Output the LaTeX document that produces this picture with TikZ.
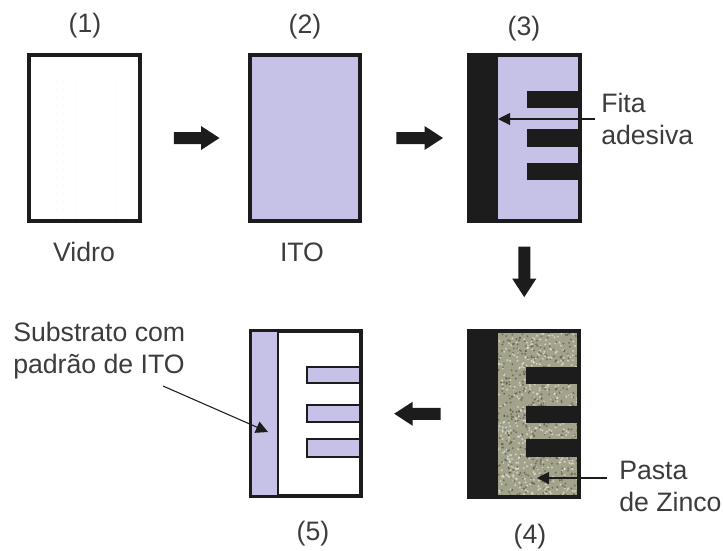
\documentclass[tikz,border=0pt]{standalone}
\usepackage{fontspec}
\setmainfont{Liberation Sans}
\usepackage{tikz}
\usetikzlibrary{arrows.meta,positioning}
\definecolor{ito}{HTML}{C6C1E6}
\definecolor{ink}{HTML}{1C1C1C}
\definecolor{tinta}{HTML}{3C3C3C}
\definecolor{pasta}{HTML}{A3A38B}
\tikzset{
  panel/.style={draw=ink,line width=3pt,minimum width=83pt,minimum height=124pt,inner sep=0pt},
  rotulo/.style={text=tinta,font=\fontsize{20}{24}\selectfont,inner sep=0pt},
  notas/.style={rotulo,align=left},
  seta/.style={draw=ink,line width=9pt,-{Triangle[length=14pt,width=17pt]}},
  guia/.style={draw=ink,line width=0.8pt,-{Triangle[length=9pt,width=9pt]}}
}
\begin{document}
\begin{tikzpicture}[scale=0.2636]
    \useasboundingbox (0,0) rectangle (72.3,-55.1);
    % paineis
    \node [panel,fill=white] (p1) at (8.45,-13.8) {};
    \node [panel,fill=ito] (p2) at (30.5,-13.8) {};
    \node [panel,fill=ito] (p3) at (52.45,-13.8) {};
    \node [panel,fill=white] (p5) at (30.6,-41.35) {};
    % pontos claros
    \foreach \i in {0,...,12} {
        \foreach \j in {0,...,17} {
            \fill [magenta!12] ({4.4+\i*0.65},{-8.2-\j*0.8}) circle (0.05);
        }
    }
    \foreach \i in {0,...,6} {
        \foreach \j in {0,...,17} {
            \fill [magenta!10] ({29+\i*0.8},{-35-\j*0.8}) circle (0.05);
        }
    }
    % painel 3
    \fill [ink] (46.7,-5.3) rectangle (49.8,-22.3);
    \fill [ink] (52.7,-9.1) rectangle (58.2,-10.8);
    \fill [ink] (52.7,-12.9) rectangle (58.2,-14.7);
    \fill [ink] (52.7,-16.3) rectangle (58.2,-18);
    % painel 4
    \fill [pasta] (49.8,-32.9) rectangle (58.1,-49.9);
    \pgfmathsetseed{7}
    \foreach \i in {1,...,900} {
        \pgfmathsetmacro{\px}{49.8+rnd*8}
        \pgfmathsetmacro{\py}{-33.3-rnd*16.2}
        \ifodd\i
            \fill [white,opacity=0.5] (\px,\py) circle (0.11);
        \else
            \fill [black!70!olive,opacity=0.5] (\px,\py) circle (0.11);
        \fi
    }
    \fill [ink] (46.7,-32.9) rectangle (49.8,-49.9);
    \fill [ink] (52.6,-36.7) rectangle (58.1,-38.4);
    \fill [ink] (52.6,-40.6) rectangle (58.1,-42.3);
    \fill [ink] (52.6,-43.9) rectangle (58.1,-45.7);
    \node [panel] (p4) at (52.4,-41.4) {};
    % painel 5
    \draw [ink,fill=ito,line width=1pt] (25.1,-33.1) rectangle (27.8,-49.6);
    \draw [ink,fill=ito,line width=1pt] (30.7,-36.7) rectangle (36,-38.3);
    \draw [ink,fill=ito,line width=1pt] (30.7,-40.5) rectangle (36,-42.2);
    \draw [ink,fill=ito,line width=1pt] (30.7,-43.9) rectangle (36,-45.7);
    % setas
    \draw [seta,shorten <=24pt,shorten >=21pt,yshift=1.5pt] (p1) -- (p2);
    \draw [seta,shorten <=25.5pt,shorten >=18pt,yshift=1.5pt] (p2) -- (p3);
    \draw [seta,shorten <=18pt,shorten >=24pt] (p3) -- (p4);
    \draw [seta,shorten <=19.5pt,shorten >=23pt] (p4) -- (p5);
    % textos
    \node [rotulo] (n1) at (8.5,-2.6) {(1)};
    \node [rotulo] (n2) at (30.5,-2.7) {(2)};
    \node [rotulo] (n3) at (52.4,-2.9) {(3)};
    \node [rotulo] (n4) at (53,-53.7) {(4)};
    \node [rotulo] (n5) at (31.3,-53.4) {(5)};
    \node [rotulo] (vidro) at (8.4,-25.2) {Vidro};
    \node [rotulo] (ito) at (30.2,-25.2) {ITO};
    \node [notas,anchor=west] (fita) at (60.1,-11.9) {Fita\\adesiva};
    \node [notas,anchor=west] (zinco) at (61.9,-48.6) {Pasta\\de Zinco};
    \node [notas,anchor=west] (subs) at (1.3,-35.1) {Substrato com\\padrão de ITO};
    % guias
    \coordinate (a3) at (49.8,-11.9);
    \coordinate (b3) at (59.5,-11.9);
    \coordinate (a4) at (53.7,-47.8);
    \coordinate (b4) at (60.7,-47.8);
    \coordinate (a5) at (26.8,-43.2);
    \coordinate (b5) at (16.3,-38.6);
    \draw [guia] (b3) -- (a3);
    \draw [guia] (b4) -- (a4);
    \draw [guia] (b5) -- (a5);
\end{tikzpicture}
\end{document}
